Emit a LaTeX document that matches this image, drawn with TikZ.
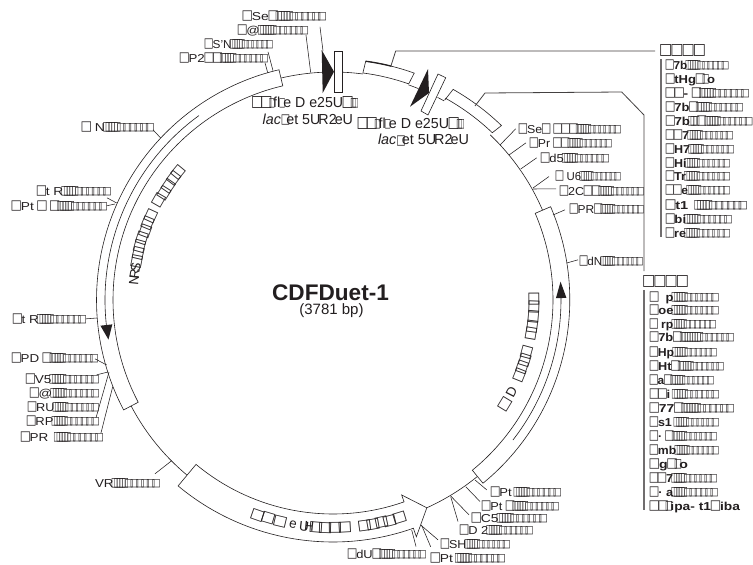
\documentclass[tikz,border=0pt]{standalone}
\usepackage{fontspec}
\usepackage{graphicx}
\setmainfont{Liberation Sans}
\newfontfamily\sqfont{DejaVu Sans}
\usetikzlibrary{calc}
\definecolor{ink}{HTML}{231F20}
% box glyphs as the reference prints them
\newcommand\qG{\raisebox{0.7pt}{\scalebox{.75}[1]{\fontsize{13.4}{14}\sqfont\symbol{"25A1}}}}
\newcommand\qA{\makebox[7.4pt][c]{\qG}}
\newcommand\qN{\makebox[2.2pt][c]{\raisebox{1pt}{\scalebox{.55}[1]{\fontsize{12.4}{13}\sqfont\symbol{"25A1}}}}}
\newcommand\qS{\makebox[4.7pt][c]{\raisebox{1pt}{\scalebox{.8}[1]{\fontsize{10.6}{11}\sqfont\symbol{"25A1}}}}}
\newcommand\qE{\qN\qN\qN\qN\qN\qS\qS\qS\qS\qS\qS}
\newcommand\qL{\makebox[9.4pt][c]{\raisebox{0.4pt}{\scalebox{.85}[1]{\fontsize{15.5}{16}\sqfont\symbol{"25A1}}}}}
\newcommand\qH{\makebox[11.5pt][c]{\raisebox{0.2pt}{\scalebox{.92}[1]{\fontsize{15.5}{16}\sqfont\symbol{"25A1}}}}}
\newcommand\qC{\scalebox{1.12}[1]{\fontsize{14}{15}\sqfont\symbol{"25A1}}}
\tikzset{
  lab/.style={inner sep=0pt,outer sep=0pt,anchor=base west,text=ink,font=\fontsize{11.5}{12}\selectfont},
  biglab/.style={lab,font=\fontsize{14.5}{15}\selectfont},
  listlab/.style={lab,font=\fontsize{11.5}{12}\selectfont\bfseries},
  leader/.style={draw=ink,line width=.55pt},
  long leader/.style={draw=ink!85,line width=.8pt},
  ring/.style={draw=ink,line width=.6pt,fill=white},
  backbone/.style={draw=ink,line width=.6pt},
  listbar/.style={draw=ink!65,line width=1.2pt},
  curved/.style={inner sep=0pt,text=ink,font=\fontsize{13.5}{14}\selectfont},
}
% \lab[style]{name}{x left}{x right}{y centre}{text}
\newcommand\lab[6][lab]{%
  \pgfmathsetlengthmacro\labw{#4pt-#3pt}%
  \node[#1] (#2) at (#3,{#5+4}) {\resizebox{\labw}{\height}{#6}};}
% \ld{node.anchor}{dx}{dy}{x end}{y end}
\newcommand\ld[5]{\draw[leader] ($(#1)+(#2,#3)$) -- (#4,#5);}
\begin{document}
\begin{tikzpicture}[x=1pt,y=-1pt]
\useasboundingbox (0,0) rectangle (753,565);
\fill[white] (0,0) rectangle (753,565);

\begin{scope}[shift={(333,300)}]
% backbone pieces
\draw[backbone] (103.2:228pt) arc (103.2:92.8:228pt);
\draw[backbone] (87.7:228pt) arc (87.7:82.5:228pt);
\draw[backbone] (70.7:228pt) arc (70.7:68:228pt);
\draw[backbone] (62.7:228pt) arc (62.7:60.8:228pt);
\draw[backbone] (46.4:228pt) arc (46.4:23.2:228pt);
\draw[backbone] (-50.7:228pt) arc (-50.7:-65.7:228pt);
\draw[backbone] (230.2:228pt) arc (230.2:207.7:228pt);
% left feature
\draw[ring] (103.2:236.5pt) arc (103.2:207.7:236.5pt) -- (207.7:220pt) arc (207.7:103.2:220pt) -- cycle;
\draw[backbone] (126:228pt) arc (126:187:228pt);
\fill[ink] (186.3:234pt) -- (186.3:222pt) -- (190:228pt) -- cycle;
% right feature
\draw[ring] (23.2:236.8pt) arc (23.2:-50.7:236.8pt) -- (-50.7:220pt) arc (-50.7:23.2:220pt) -- cycle;
\draw[backbone] (-37.9:228pt) arc (-37.9:0.5:228pt);
\fill[ink] (0.5:233.5pt) -- (0.5:223pt) -- (4.6:228.3pt) -- cycle;
% bottom arrow feature
\draw[ring] (230.2:242pt) arc (230.2:289.4:242pt) -- (289.4:251pt) -- (294.3:228pt) -- (289.4:206.7pt) -- (289.4:214pt) arc (289.4:230.2:214pt) -- cycle;
% small outer feature
\draw[ring] (82.5:229pt) -- (82.2:241pt) arc (82.2:70.3:241pt) -- (70.7:229pt) arc (70.7:82.5:229pt) -- cycle;
\draw[draw=ink,line width=1.3pt] (82.2:241pt) arc (82.2:76:241pt);
% third outer feature
\draw[ring] (60.8:229pt) -- (60.3:242.5pt) arc (60.3:46:242.5pt) -- (46.4:231pt) arc (46.4:60.8:231pt) -- cycle;

% curved texts
\foreach \a/\c [count=\i] in {174.2/N,172.4/R,170.6/S,168.8/\qC,166.6/\qC,164.4/\qC,162/\qC,159.8/\qC,157.4/\qC,155.3/\qC,150.2/\qC,147.6/\qC,145.2/\qC,142.7/\qC,140.4/\qC}
  \node[curved,rotate=\a-90] (nrs\i) at (\a:200pt) {\c};
\foreach \a/\c [count=\i] in {-31.3/\qC,-27.3/D,-21.9/\qC,-19.5/\qC,-17.4/\qC,-15.2/\qC,-9.7/\qC,-7.5/\qC,-4.9/\qC,-2/\qC,0.3/\qC}
  \node[curved,rotate=\a+90] (rgt\i) at (\a:201pt) {\c};
\foreach \a/\c [count=\i] in {250.7/\qC,253.5/\qC,256.6/\qC,259.9/e,262.7/U,264/H,265.7/\qC,268/\qC,270.5/\qC,273/\qC,278/\qC,280.1/\qC,282.3/\qC,284.4/\qC,287/\qC}
  \node[curved,rotate=\a+90] (bot\i) at (\a:228pt) {\c};
\end{scope}

% lacUV5 promoters and RBS
\fill[ink] (321.7,50) -- (334,71.7) -- (322.7,93) -- cycle;
\draw[ring] (334,51) rectangle (342,92.7);
\fill[ink] (428,69) -- (429,93) -- (410,106.7) -- cycle;
\draw[ring] (438,74) -- (445.7,77.7) -- (428,115) -- (421,111) -- cycle;

% centre
\node[inner sep=0pt,text=ink,font=\fontsize{22.6}{24}\selectfont\bfseries] (title) at (330.5,293) {CDFDuet-1};
\node[inner sep=0pt,text=ink,font=\fontsize{15}{16}\selectfont] (size) at (331.5,311) {(3781 bp)};

% top labels
\lab{se1}{243}{325}{16}{\qA Se\qA\qE}
\lab{at1}{238}{307}{30}{\qA @\qN\qE}
\lab{sn1}{205}{272}{44}{\qA S'N\qE}
\lab{p2}{180}{267}{58}{\qA P2\qA\qA\qE}
\lab[biglab]{la1}{252.7}{356.7}{103}{\qL\qL\qN fl\kern1pt\qN e\ D e25U\qL\qN\qN}
\lab[biglab]{la2}{262.7}{353}{120}{\textit{lac}\qG\kern-4pt et 5U\kern-2pt R2\kern-2pt eU}
\lab[biglab]{la3}{358}{462.7}{124}{\qL\qL\qN fl\kern1pt\qN e\ D e25U\qL\qN\qN}
\lab[biglab]{la4}{378}{469}{140.7}{\textit{lac}\qG\kern-4pt et 5U\kern-2pt R2\kern-2pt eU}
\ld{se1.east}{-5}{11}{323}{51}
\ld{at1.east}{-1}{5}{310.7}{72.7}
\ld{sn1.east}{-4}{8}{273}{70.7}
\ld{p2.east}{-2}{5}{267.7}{72.7}

% right labels
\lab{se2}{519}{620}{129}{\qA Se\qA\ \qA\qA\qA\qE}
\lab{pr1}{530}{611}{143}{\qA Pr\ \qA\qA\qE}
\lab{d5}{541}{608}{158}{\qA d5\qE}
\lab{u6}{556}{620}{176}{\qA\ U6\qE}
\lab{c2}{560}{643}{191}{\qA 2C\qA\qA\qE}
\lab{prr}{570}{643}{209}{\qA PR\qA\qE}
\lab{dn}{580}{642}{261}{\qA dN\qE}
\ld{se2.west}{-3.3}{0}{500}{145}
\ld{pr1.west}{-4}{0}{509}{155}
\ld{d5.west}{-4.3}{0}{520.7}{169}
\ld{u6.west}{-7}{0.7}{533}{188}
\ld{c2.west}{-4}{-2}{533}{189}
\ld{prr.west}{-5}{1}{553}{215}
\ld{dn.west}{-2}{-1}{566.7}{263}

% bottom labels
\lab{pt1}{491}{560}{492}{\qA Pt\ \qE}
\lab{pt2}{482}{558}{506}{\qA Pt\ \qA\qE}
\lab{c5}{472}{546}{518}{\qA C5\qE}
\lab{d2}{460}{532}{530}{\qA D\ 2\qE}
\lab{sh}{441}{509}{544}{\qA SH\qE}
\lab{pt3}{431}{504}{558}{\qA Pt\ \qE}
\lab{du}{348}{425}{554}{\qA dU\qA\qE}
\ld{pt1.west}{-4.3}{-2}{475}{480}
\ld{pt2.west}{-2}{-4.3}{465.7}{486.7}
\ld{c5.west}{-3}{-3}{450.7}{496}
\ld{d2.west}{-2}{-8.3}{450.7}{496.7}
\ld{sh.west}{-3}{-4}{420.7}{525}
\ld{pt3.west}{-0.3}{-11}{421.5}{525}
\ld{du.east}{-9}{-7.3}{411.7}{530}

% left labels
\lab{n1}{82}{153}{127}{\qA\ N\qE}
\lab{tr1}{37}{110}{191}{\qA t R\qE}
\lab{pt4}{12}{106}{206}{\qA Pt\ \qA\ \qA\qE}
\lab{tr2}{13}{85}{319}{\qA t R\qE}
\lab{pd}{12}{97}{358}{\qA PD\ \qA\qE}
\lab{v5}{26}{98}{379}{\qA V5\qE}
\lab{at2}{30}{98}{393}{\qA @\qE}
\lab{ru}{28}{98}{407}{\qA RU\qE}
\lab{rp}{27}{98}{421}{\qA RP\qE}
\lab{pr2}{21}{102}{437}{\qA PR\ \ \qE}
\lab{vr}{95}{159}{483}{VR\qE}
\ld{n1.east}{0}{3}{160.7}{138}
\ld{tr1.east}{-3}{7}{116.7}{203}
\ld{pt4.east}{0.7}{0}{115}{204}
\ld{tr2.east}{1}{0}{97}{318}
\ld{pd.east}{-2}{1}{106.7}{365}
\ld{v5.east}{-1.3}{-4}{108}{372}
\ld{rp.east}{-2}{-3}{109}{372}
\ld{pr2.east}{-1}{-4}{112.7}{386.7}
\ld{vr.east}{-4}{-9}{171.7}{460.7}

% list headers
\node[lab] (h1) at (660,55) {\resizebox{45pt}{\height}{\qH\qH\qH\qH}};
\node[lab] (h2) at (643,286) {\resizebox{45pt}{\height}{\qH\qH\qH\qH}};
\coordinate (f2a) at (390.7,66.7);
\coordinate (f2b) at (395.7,51);
\draw[long leader] (f2a) -- (f2b) -- (655,51);
\coordinate (f3a) at (475,106);
\coordinate (f3b) at (485,93);
\coordinate (f3c) at (621.7,92);
\coordinate (f3d) at (644,115);
\coordinate (f3e) at (644,271);
\draw[long leader] (f3a) -- (f3b) -- (f3c) -- (f3d) -- (f3e);

% list 1
\draw[listbar] (661,59) -- (661,237);
\lab[listlab]{a01}{666}{727.7}{65}{\qA 7b\qE}
\lab[listlab]{a02}{666}{715}{79}{\qA tHg\qA\qN o}
\lab[listlab]{a03}{666}{748}{93}{\qA\qA-\ \qA\qE}
\lab[listlab]{a04}{666}{742}{107}{\qA 7b\qA\qE}
\lab[listlab]{a05}{666}{751.5}{121}{\qA 7b\qN\qN\qN\qA\qE}
\lab[listlab]{a06}{666}{732}{135}{\qA\qA 7\qE}
\lab[listlab]{a07}{666}{733}{149}{\qA H7\qE}
\lab[listlab]{a08}{666}{729}{163}{\qA Hi\qE}
\lab[listlab]{a09}{666}{729}{176}{\qA Tr\qE}
\lab[listlab]{a10}{666}{729}{190}{\qA\qA e\qE}
\lab[listlab]{a11}{666}{746}{205}{\qA t1\ \ \qE}
\lab[listlab]{a12}{666}{731}{219}{\qA bi\qE}
\lab[listlab]{a13}{666}{729}{233}{\qA re\qE}

% list 2
\draw[listbar] (644,290) -- (644,510);
\lab[listlab]{b01}{650}{717.7}{297}{\qA\ \ p\qE}
\lab[listlab]{b02}{650}{717.7}{310}{\qA oe\qE}
\lab[listlab]{b03}{650}{715}{324}{\qA\ rp\qE}
\lab[listlab]{b04}{650}{733}{337}{\qA 7b\qA\qN\qN\qN\qE}
\lab[listlab]{b05}{650}{716}{352}{\qA Hp\qE}
\lab[listlab]{b06}{650}{723}{366}{\qA Ht\qA\qE}
\lab[listlab]{b07}{650}{713}{380}{\qA a\qA\qE}
\lab[listlab]{b08}{650}{718}{394}{\qA\qA i\ \qE}
\lab[listlab]{b09}{650}{733}{408}{\qA 77\qA\qN\qE}
\lab[listlab]{b10}{650}{718}{422}{\qA s1\ \qE}
\lab[listlab]{b11}{650}{716}{436}{\qA·\ \qA\qE}
\lab[listlab]{b12}{650}{718}{450}{\qA mb\qE}
\lab[listlab]{b13}{650}{688}{464}{\qA g\qA\qN o}
\lab[listlab]{b14}{650}{716}{478}{\qA\qA 7\qE}
\lab[listlab]{b15}{650}{717}{492}{\qA·\ a\qE}
\lab[listlab]{b16}{650}{740}{506}{\qA\qA\qN ipa-\ t1\qA iba}
\end{tikzpicture}
\end{document}
